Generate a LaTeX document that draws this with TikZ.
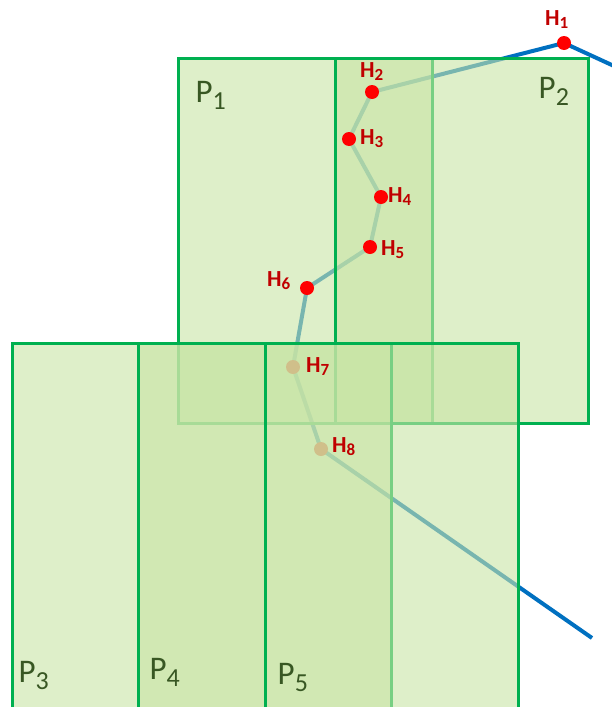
\documentclass[tikz,border=0pt]{standalone}
\usepackage{fontspec}
\setmainfont{Carlito}
\definecolor{partline}{RGB}{0,176,80}
\definecolor{partfill}{RGB}{200,228,165}
\definecolor{trackblue}{RGB}{0,112,192}
\definecolor{hitred}{RGB}{255,0,0}
\definecolor{hittext}{RGB}{192,0,0}
\definecolor{parttext}{RGB}{56,87,35}
\newcommand\plab[1]{P\raisebox{-7pt}{\fontsize{26}{26}\selectfont #1}}
\newcommand\hlab[1]{H\raisebox{-3.5pt}{\fontsize{17}{17}\selectfont #1}}

\begin{document}
\begin{tikzpicture}[
  x=1pt, y=-1pt,
  part/.style={draw=partline, line width=3pt, fill=partfill, fill opacity=0.6},
  track/.style={draw=trackblue, line width=4pt, line join=round},
  hit/.style={circle, fill=hitred, inner sep=0pt, minimum size=14pt},
  hlabel/.style={anchor=base west, inner sep=0pt, text=hittext,
                 font=\fontsize{23}{23}\selectfont\bfseries},
  plabel/.style={anchor=base west, inner sep=0pt, text=parttext,
                 font=\fontsize{33}{33}\selectfont}]
\useasboundingbox (0,0) rectangle (612,707);

% ================= the hit points and the track ==========================
\coordinate (h1) at (564,43);
\coordinate (h2) at (372,92);
\coordinate (h3) at (349,139);
\coordinate (h4) at (381,197);
\coordinate (h5) at (370,247);
\coordinate (h6) at (307,288);
\coordinate (h7) at (293,367);
\coordinate (h8) at (321,449);
\coordinate (trackin)  at (614,66);
\coordinate (trackout) at (592,638);

\draw[track] (trackin)--(h1)--(h2)--(h3)--(h4)--(h5)--(h6)--(h7)--(h8)--(trackout);

% ================= upper parts ===========================================
\draw[part] (178,58)  rectangle (432,423);   % P1
\draw[part] (335,58)  rectangle (588,423);   % P2

\foreach \i in {1,...,8}
  \node[hit] (dot\i) at (h\i) {};

% ================= lower parts ===========================================
\draw[part] (12,343)  rectangle (265,708.5);   % P3
\draw[part] (138,343) rectangle (391,708.5);   % P4
\draw[part] (265,343) rectangle (518,708.5);   % P5

% ================= labels ================================================
\node[hlabel] (lh1) at (545,25)  {\hlab{1}};
\node[hlabel] (lh2) at (360,77)  {\hlab{2}};
\node[hlabel] (lh3) at (360,144) {\hlab{3}};
\node[hlabel] (lh4) at (388,202) {\hlab{4}};
\node[hlabel] (lh5) at (381,255) {\hlab{5}};
\node[hlabel] (lh6) at (267,286) {\hlab{6}};
\node[hlabel] (lh7) at (306,372) {\hlab{7}};
\node[hlabel] (lh8) at (332,452) {\hlab{8}};

\node[plabel] (lp1) at (195.5,102) {\plab{1}};
\node[plabel] (lp2) at (538.5,98)  {\plab{2}};
\node[plabel] (lp3) at (18.5,682)  {\plab{3}};
\node[plabel] (lp4) at (149.5,679) {\plab{4}};
\node[plabel] (lp5) at (277.5,684) {\plab{5}};

\end{tikzpicture}
\end{document}
